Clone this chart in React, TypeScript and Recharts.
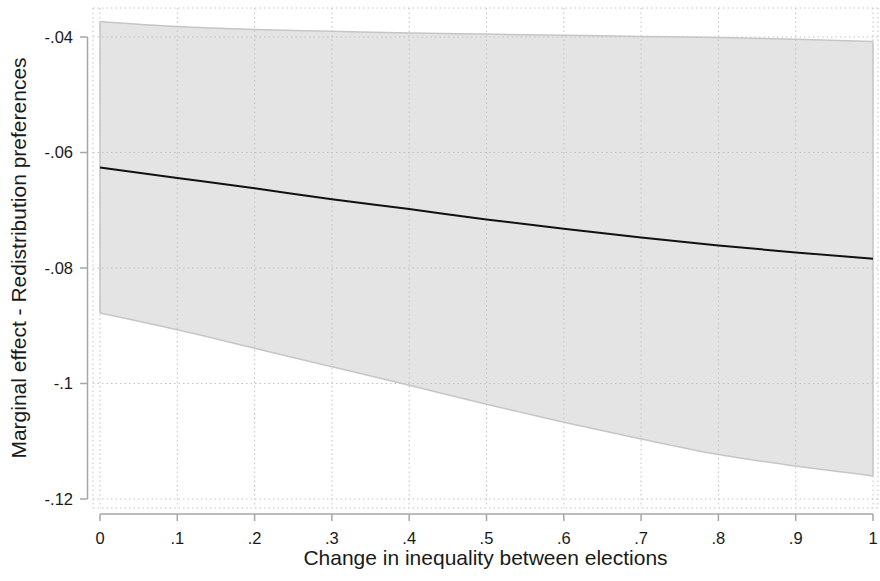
import React from 'react';
import {
  ComposedChart,
  Area,
  Line,
  XAxis,
  YAxis,
  CartesianGrid,
  ReferenceLine,
  Label,
} from 'recharts';

// ---- data ----
const xValues = [0, 0.1, 0.2, 0.3, 0.4, 0.5, 0.6, 0.7, 0.8, 0.9, 1];
const marginalEffect = [-0.0626, -0.0644, -0.0662, -0.0681, -0.0698, -0.0716, -0.0732, -0.0747, -0.0761, -0.0773, -0.0784];
const lowerBound = [-0.0878, -0.0907, -0.0939, -0.0971, -0.1003, -0.1036, -0.1067, -0.1096, -0.1123, -0.1143, -0.1160];
const upperBound = [-0.0373, -0.0382, -0.0387, -0.0390, -0.0393, -0.0395, -0.0397, -0.0399, -0.0401, -0.0404, -0.0408];

const xTicks = [0, 0.1, 0.2, 0.3, 0.4, 0.5, 0.6, 0.7, 0.8, 0.9, 1];
const xTickLabels = ['0', '.1', '.2', '.3', '.4', '.5', '.6', '.7', '.8', '.9', '1'];
const yTicks = [-0.12, -0.1, -0.08, -0.06, -0.04];
const yTickLabels = ['-.12', '-.1', '-.08', '-.06', '-.04'];

const xTitle = 'Change in inequality between elections';
const yTitle = 'Marginal effect - Redistribution preferences';

// axis extents (data units)
const xDomain: [number, number] = [-0.00906, 1.00647];
const yDomain: [number, number] = [-0.121558, -0.034978];
const yAxisLineX = -0.01617;
const xAxisLineY = -0.1226;

const data = xValues.map((x, i) => ({
  x,
  me: marginalEffect[i],
  band: [lowerBound[i], upperBound[i]],
}));

const FONT = '"Liberation Sans", Arial, sans-serif';
const TEXT = '#1a1a1a';
const AXIS = '#a6a6a6';

const XTick = (props: any) => {
  const { x, y, payload } = props;
  const idx = xTicks.indexOf(payload.value);
  const label = idx >= 0 ? xTickLabels[idx] : String(payload.value);
  return (
    <g>
      <line x1={x} x2={x} y1={y + 6} y2={y + 13} stroke={AXIS} strokeWidth={1.5} />
      <text x={x} y={y + 36} textAnchor="middle" fontFamily={FONT} fontSize={16.5} fill={TEXT}>
        {label}
      </text>
    </g>
  );
};

const YTick = (props: any) => {
  const { x, y, payload } = props;
  let idx = -1;
  yTicks.forEach((t, i) => {
    if (Math.abs(t - payload.value) < 1e-9) idx = i;
  });
  const label = idx >= 0 ? yTickLabels[idx] : String(payload.value);
  return (
    <g>
      <line x1={x - 13} x2={x - 5.5} y1={y} y2={y} stroke={AXIS} strokeWidth={1.5} />
      <text x={x - 20} y={y} dy={5.8} textAnchor="end" fontFamily={FONT} fontSize={16.5} fill={TEXT}>
        {label}
      </text>
    </g>
  );
};

export default function App() {
  return (
    <div style={{ position: 'absolute', left: 0, top: 0, width: 880, height: 581, background: '#fff' }}>
      <ComposedChart
        width={880}
        height={581}
        data={data}
        margin={{ top: 8, right: 2, bottom: 0, left: 0 }}
      >
        <XAxis
          dataKey="x"
          type="number"
          domain={xDomain}
          ticks={xTicks}
          allowDataOverflow
          axisLine={false}
          tickLine={false}
          tickSize={0}
          tickMargin={0}
          height={73}
          tick={<XTick />}
          interval={0}
        >
          <Label
            content={(p: any) => {
              const vb = p.viewBox;
              return (
                <text
                  x={vb.x + vb.width / 2}
                  y={vb.y + vb.height - 16}
                  textAnchor="middle"
                  fontFamily={FONT}
                  fontSize={21}
                  fill={TEXT}
                >
                  {xTitle}
                </text>
              );
            }}
          />
        </XAxis>
        <YAxis
          type="number"
          domain={yDomain}
          ticks={yTicks}
          allowDataOverflow
          axisLine={false}
          tickLine={false}
          tickSize={0}
          tickMargin={0}
          width={93}
          tick={<YTick />}
          interval={0}
        >
          <Label
            content={(p: any) => {
              const vb = p.viewBox;
              const cx = vb.x + 26;
              const cy = vb.y + vb.height / 2;
              return (
                <text
                  x={cx}
                  y={cy}
                  transform={`rotate(-90, ${cx}, ${cy})`}
                  textAnchor="middle"
                  fontFamily={FONT}
                  fontSize={21}
                  fill={TEXT}
                >
                  {yTitle}
                </text>
              );
            }}
          />
        </YAxis>
        <Area
          dataKey="band"
          type="monotone"
          fill="#e4e4e4"
          fillOpacity={1}
          stroke="#c6c6c6"
          strokeWidth={1.5}
          isAnimationActive={false}
          dot={false}
          activeDot={false}
        />
        <ReferenceLine
          segment={[{ x: xValues[0], y: lowerBound[0] }, { x: xValues[0], y: upperBound[0] }]}
          stroke="#c6c6c6"
          strokeWidth={1.5}
        />
        <ReferenceLine
          segment={[
            { x: xValues[xValues.length - 1], y: lowerBound[lowerBound.length - 1] },
            { x: xValues[xValues.length - 1], y: upperBound[upperBound.length - 1] },
          ]}
          stroke="#c6c6c6"
          strokeWidth={1.5}
        />
        <CartesianGrid
          stroke="#c2c2c2"
          strokeDasharray="1.5 3"
          strokeWidth={1}
          zIndex={250}
        />
        <Line
          dataKey="me"
          type="monotone"
          stroke="#111111"
          strokeWidth={2}
          dot={false}
          activeDot={false}
          isAnimationActive={false}
        />
        <ReferenceLine
          ifOverflow="visible"
          segment={[{ x: xTicks[0], y: xAxisLineY }, { x: xTicks[xTicks.length - 1], y: xAxisLineY }]}
          stroke={AXIS}
          strokeWidth={1.5}
        />
        <ReferenceLine
          ifOverflow="visible"
          segment={[{ x: yAxisLineX, y: yTicks[0] }, { x: yAxisLineX, y: yTicks[yTicks.length - 1] }]}
          stroke={AXIS}
          strokeWidth={1.5}
        />
      </ComposedChart>
    </div>
  );
}
